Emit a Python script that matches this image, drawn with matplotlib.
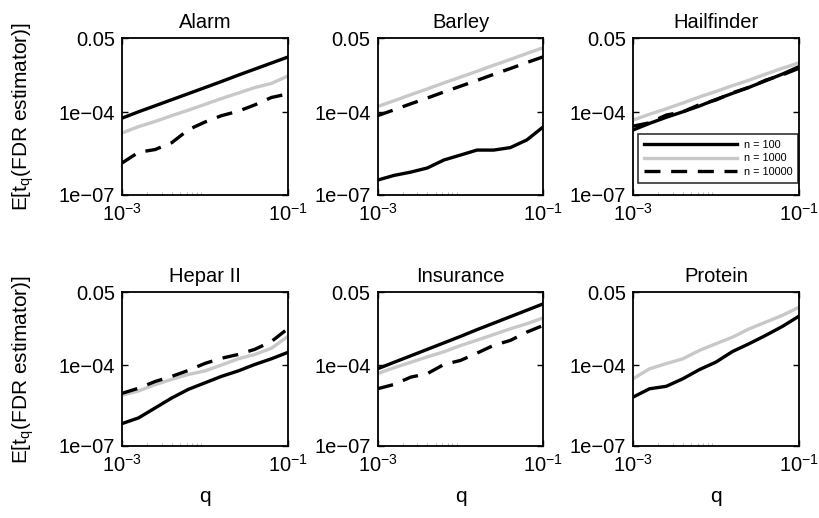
import numpy as np
import matplotlib
matplotlib.use('Agg')
from matplotlib import pyplot as plt

plt.rcParams['font.family'] = ['Liberation Sans', 'DejaVu Sans']
plt.rcParams['mathtext.fontset'] = 'custom'
plt.rcParams['mathtext.rm'] = 'Liberation Sans'
plt.rcParams['mathtext.it'] = 'Liberation Sans'
plt.rcParams['mathtext.default'] = 'regular'

# q grid (log-spaced, read at 0.2-decade steps)
q = [0.001, 0.00158, 0.00251, 0.00398, 0.00631, 0.01, 0.0158, 0.0251, 0.0398, 0.0631, 0.1]

# log10 of E[t_q], per network and sample size
alarm_100 = [-4.21, -3.98, -3.76, -3.54, -3.32, -3.10, -2.88, -2.65, -2.43, -2.21, -1.99]
alarm_1000 = [-4.75, -4.52, -4.33, -4.12, -3.92, -3.71, -3.50, -3.30, -3.10, -2.95, -2.68]
alarm_10000 = [-5.84, -5.45, -5.35, -5.10, -4.63, -4.35, -4.12, -3.96, -3.73, -3.46, -3.33]

barley_100 = [-6.46, -6.29, -6.17, -6.02, -5.73, -5.55, -5.37, -5.37, -5.28, -5.00, -4.52]
barley_1000 = [-3.79, -3.58, -3.36, -3.15, -2.93, -2.72, -2.51, -2.29, -2.08, -1.86, -1.65]
barley_10000 = [-4.12, -3.91, -3.69, -3.48, -3.26, -3.05, -2.84, -2.62, -2.41, -2.19, -1.98]

hail_100 = [-4.64, -4.40, -4.18, -3.98, -3.77, -3.53, -3.31, -3.09, -2.85, -2.61, -2.34]
hail_1000 = [-4.28, -4.07, -3.87, -3.66, -3.44, -3.24, -3.03, -2.83, -2.61, -2.40, -2.20]
hail_10000 = [-4.50, -4.38, -4.10, -3.98, -3.72, -3.55, -3.29, -3.09, -2.83, -2.64, -2.40]

hepar_100 = [-6.17, -5.96, -5.59, -5.22, -4.90, -4.66, -4.42, -4.22, -3.98, -3.77, -3.53]
hepar_1000 = [-5.12, -4.96, -4.73, -4.53, -4.35, -4.22, -4.00, -3.77, -3.61, -3.38, -2.94]
hepar_10000 = [-5.05, -4.86, -4.61, -4.42, -4.20, -3.94, -3.75, -3.61, -3.42, -3.13, -2.65]

ins_100 = [-4.14, -3.90, -3.66, -3.42, -3.18, -2.94, -2.69, -2.45, -2.21, -1.97, -1.73]
ins_1000 = [-4.32, -4.10, -3.90, -3.70, -3.51, -3.28, -3.08, -2.87, -2.66, -2.47, -2.25]
ins_10000 = [-4.88, -4.72, -4.45, -4.32, -3.98, -3.83, -3.56, -3.27, -3.09, -2.78, -2.53]

prot_100 = [-5.19, -4.88, -4.79, -4.51, -4.17, -3.89, -3.50, -3.21, -2.90, -2.57, -2.19]
prot_1000 = [-4.51, -4.14, -3.95, -3.77, -3.46, -3.21, -2.97, -2.66, -2.41, -2.16, -1.86]

titles = ['Alarm', 'Barley', 'Hailfinder', 'Hepar II', 'Insurance', 'Protein']
series = [
    (alarm_100, alarm_1000, alarm_10000),
    (barley_100, barley_1000, barley_10000),
    (hail_100, hail_1000, hail_10000),
    (hepar_100, hepar_1000, hepar_10000),
    (ins_100, ins_1000, ins_10000),
    (prot_100, prot_1000, None),
]
labels = ['n = 100', 'n = 1000', 'n = 10000']

fig = plt.figure(figsize=(8.2, 5.18), dpi=100)

lefts = [0.1488, 0.4604, 0.772]
bottoms = [0.6236, 0.139]
heights = [0.303, 0.297]
w = 0.2024

for i, (name, ser) in enumerate(zip(titles, series)):
    r, c = divmod(i, 3)
    ax = fig.add_axes([lefts[c], bottoms[r], w, heights[r]])
    s100, s1000, s10000 = ser
    ax.plot(q, 10.0 ** np.array(s100), color='black', lw=2.4, label=labels[0])
    ax.plot(q, 10.0 ** np.array(s1000), color='#c8c8c8', lw=2.4, label=labels[1])
    if s10000 is not None:
        ax.plot(q, 10.0 ** np.array(s10000), color='black', lw=2.4,
                dashes=(4.8, 3.2), label=labels[2])
    ax.set_xscale('log')
    ax.set_yscale('log')
    ax.set_xlim(1e-3, 1e-1)
    ax.set_ylim(1e-7, 0.05)
    ax.set_xticks([1e-3, 1e-1])
    ax.set_xticks([2e-3, 3e-3, 4e-3, 5e-3, 6e-3, 7e-3, 8e-3, 9e-3], minor=True)
    ax.set_xticklabels([r'$10^{-3}$', r'$10^{-1}$'])
    ax.set_yticks([1e-7, 1e-4, 0.05])
    ax.set_yticks([], minor=True)
    ax.set_yticklabels(['1e\u221207', '1e\u221204', '0.05'])
    ax.tick_params(which='major', direction='in', length=4, width=1,
                   labelsize=14.5, top=True, right=True, pad=5)
    ax.tick_params(axis='x', which='major', pad=6)
    ax.tick_params(axis='x', which='minor', direction='in', length=2,
                   width=0.6, color='#b0b0b0', top=False)
    for sp in ax.spines.values():
        sp.set_linewidth(1.3)
    ax.set_title(name, fontsize=14.5, pad=7)
    if c == 0:
        ax.set_ylabel('E[t$_q$(FDR estimator)]', fontsize=15)
        ax.yaxis.set_label_coords(-0.52, 0.5)
    if r == 1:
        ax.set_xlabel('q', fontsize=15, labelpad=8)
    if name == 'Hailfinder':
        leg = ax.legend(loc='lower right', bbox_to_anchor=(0.995, 0.075),
                        fontsize=7.8, handlelength=8.6, frameon=True,
                        fancybox=False, borderaxespad=0, borderpad=0.55,
                        labelspacing=0.35, handletextpad=0.6)
        leg.get_frame().set_edgecolor('black')
        leg.get_frame().set_linewidth(1.2)

fig.savefig('out.png', dpi=100)
